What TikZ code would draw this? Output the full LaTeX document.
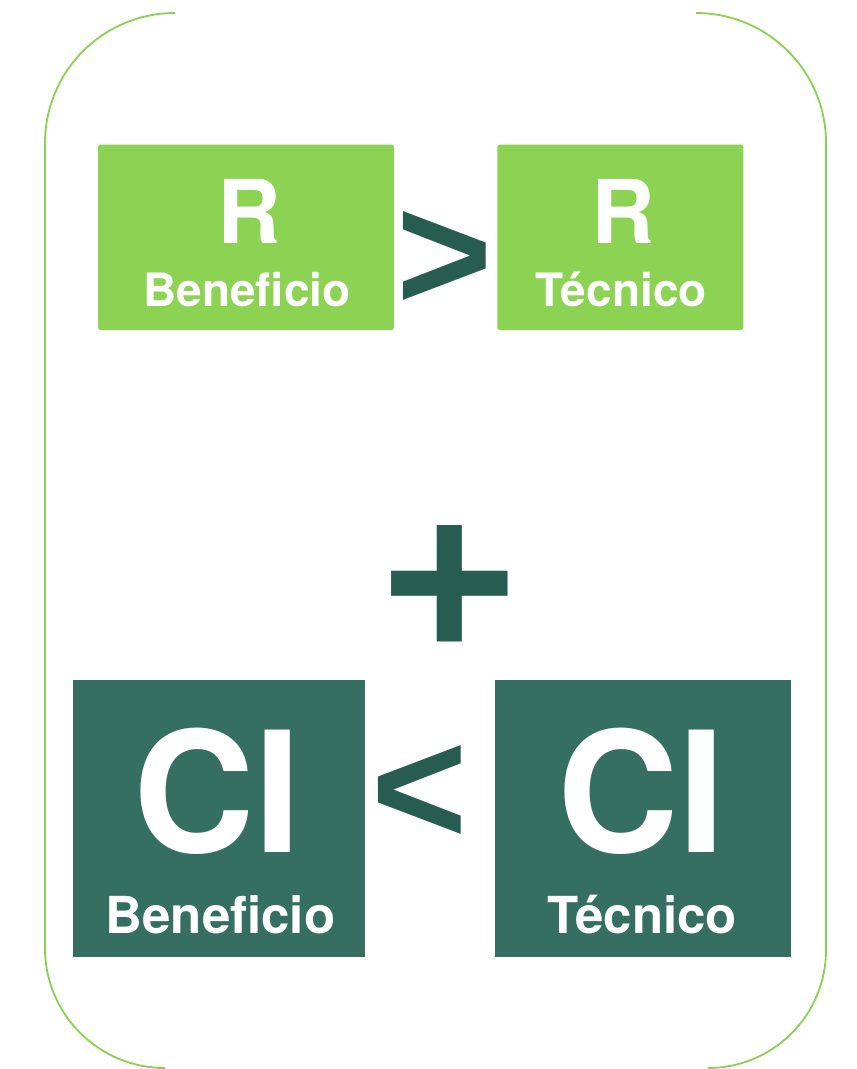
\documentclass[tikz,border=0pt]{standalone}
\usepackage{fontspec}
\setmainfont{TeX Gyre Heros}
\newfontfamily\symfont{Liberation Sans}
\definecolor{lightgreen}{HTML}{8CD253}
\definecolor{darkteal}{HTML}{356F62}
\definecolor{symgreen}{HTML}{265D50}
\definecolor{outlinegreen}{HTML}{8BD150}
\begin{document}
\begin{tikzpicture}[x=1pt,y=-1pt,
  boxbase/.style={rectangle, inner sep=0pt, outer sep=0pt, anchor=north west},
  topbox/.style={boxbase, fill=lightgreen, rounded corners=2.5pt},
  botbox/.style={boxbase, fill=darkteal},
  lbl/.style={text=white, inner sep=0pt, anchor=base},
  sym/.style={text=symgreen, inner sep=0pt, anchor=base west},
  framestyle/.style={draw=outlinegreen, line width=1.8pt}]
\useasboundingbox (0,0) rectangle (857,1069);
% frame brackets
\coordinate (lt) at (175,13);
\coordinate (lb) at (165,1068);
\coordinate (rt) at (696,13);
\coordinate (rb) at (708,1068);
\draw[framestyle] (lt) .. controls (103.2,13) and (45,71.2) .. (45,143)
  -- (45,948) .. controls (45,1014.3) and (98.7,1068) .. (lb);
\draw[framestyle] (rt) .. controls (767.8,13) and (826,71.2) .. (826,143)
  -- (826,950) .. controls (826,1015.2) and (773.2,1068) .. (rb);
% boxes
\node[topbox, minimum width=296pt, minimum height=185.5pt] (rbenbox) at (98,144.5) {};
\node[topbox, minimum width=246pt, minimum height=185.5pt] (rtecbox) at (497.3,144.5) {};
\node[botbox, minimum width=292.3pt, minimum height=277.3pt] (cibenbox) at (72.7,680) {};
\node[botbox, minimum width=296pt, minimum height=277.3pt] (citecbox) at (495,680) {};
% labels
\node[lbl, font=\bfseries\fontsize{88pt}{88pt}\selectfont] (r1) at (249,243) {R};
\node[lbl, font=\bfseries\fontsize{46pt}{46pt}\selectfont] (ben1) at (247,306) {Beneficio};
\node[lbl, font=\bfseries\fontsize{88pt}{88pt}\selectfont] (r2) at (623,243) {R};
\node[lbl, font=\bfseries\fontsize{46pt}{46pt}\selectfont] (tec1) at (621,306.5) {Técnico};
\node[lbl, font=\bfseries\fontsize{168pt}{168pt}\selectfont] (ci1) at (217.5,852) {CI};
\node[lbl, font=\bfseries\fontsize{51pt}{51pt}\selectfont] (ben2) at (220.5,933) {Beneficio};
\node[lbl, font=\bfseries\fontsize{168pt}{168pt}\selectfont] (ci2) at (641.5,852.5) {CI};
\node[lbl, font=\bfseries\fontsize{51pt}{51pt}\selectfont] (tec2) at (642,933) {Técnico};
% symbols
\node[sym, font=\symfont\bfseries\fontsize{165pt}{165pt}\selectfont] (gt) at (396,310.6) {>};
\node[sym, font=\bfseries\fontsize{251pt}{251pt}\selectfont] (plus) at (376.7,646.7) {+};
\node[sym, font=\symfont\bfseries\fontsize{165pt}{165pt}\selectfont] (lt) at (370.9,844.1) {<};
\end{tikzpicture}
\end{document}
